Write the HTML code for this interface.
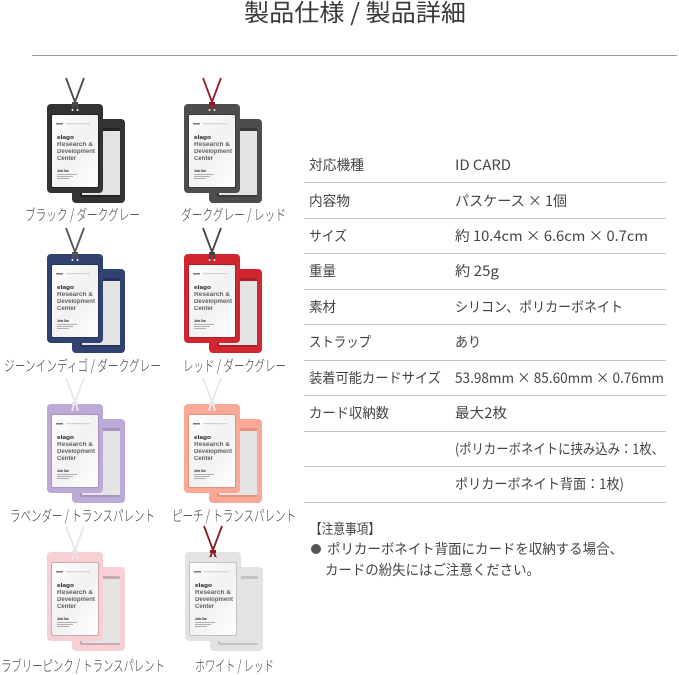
<!DOCTYPE html>
<html lang="ja"><head><meta charset="utf-8"><style>
html,body{margin:0;padding:0;background:#fff;width:679px;height:675px;overflow:hidden}
svg{display:block;font-family:"Noto Sans CJK JP","Liberation Sans",sans-serif}
.c,.r{font-size:14px;fill:#444;font-weight:400}
.l{font-size:15px;fill:#444;font-weight:300}
.k{font-family:"Liberation Sans",sans-serif;fill:#222;font-weight:bold}
use{filter:blur(.3px)}
</style></head><body>
<svg width="679" height="675" viewBox="0 0 679 675" xmlns="http://www.w3.org/2000/svg">
<defs>
<linearGradient id="g" x1="0" y1="0" x2="1" y2="1"><stop offset="0" stop-color="#fff"/><stop offset=".5" stop-color="#f1f1f1"/><stop offset="1" stop-color="#fff"/></linearGradient>
<symbol id="h" width="90" height="130" viewBox="0 -30 90 130" overflow="visible">
<rect x="25" y="15" width="53" height="84" rx="4" fill="var(--f)"/>
<rect x="33" y="24" width="40" height="69" rx="2" fill="var(--e)"/>
<rect x="35" y="27" width="38" height="64" fill="#e4e4e4"/>
<rect x="0" y="0" width="56" height="89" rx="4" fill="var(--f)"/>
<rect x="4" y="10" width="48" height="74" rx="2" fill="var(--e)"/>
<rect x="5" y="11" width="46" height="72" rx="1" fill="url(#g)"/>
<path d="M19-26 31 6M37-26 25 6" stroke="var(--s)" stroke-width="1.800" fill="none"/>
<rect x="25" y="-2" width="6" height="3" fill="var(--s)"/>
<circle cx="25.500" cy="6" r="1" fill="#f2f2f2"/><circle cx="30.500" cy="6" r="1" fill="#f2f2f2"/>
<rect x="9" y="19" width="7" height="1.500" fill="#777"/><rect x="19" y="19.200" width="24" height="1" fill="#ccc"/>
<text class="k" x="10" y="35" font-size="5.500" textLength="17" lengthAdjust="spacingAndGlyphs">elago</text>
<text class="k" x="10" y="42" font-size="6" textLength="36" lengthAdjust="spacingAndGlyphs" opacity=".7">Research &amp;</text>
<text class="k" x="10" y="49" font-size="6" textLength="38" lengthAdjust="spacingAndGlyphs" opacity=".7">Development</text>
<text class="k" x="10" y="56" font-size="6" textLength="19" lengthAdjust="spacingAndGlyphs" opacity=".7">Center</text>
<text class="k" x="10" y="68" font-size="3.500" textLength="12" lengthAdjust="spacingAndGlyphs">John Doe</text>
<path d="M10 70.500h20M10 72.500h16M10 74.500h12" stroke="#999" stroke-width=".8"/>
</symbol>
</defs>

<text x="355" y="21" text-anchor="middle" font-size="24" fill="#3a3a3a" font-weight="400" textLength="222" lengthAdjust="spacingAndGlyphs">製品仕様 / 製品詳細</text>
<rect x="32" y="55" width="645" height="1" fill="#999"/>

<use href="#h" x="47" y="74" width="90" height="130" style="--f:#333335;--e:#222;--s:#4a4a4c"/>
<use href="#h" x="184" y="74" width="90" height="130" style="--f:#4c4d4f;--e:#3a3a3a;--s:#8e1e2a"/>
<use href="#h" x="47" y="224" width="90" height="130" style="--f:#2f4270;--e:#24345c;--s:#555"/>
<use href="#h" x="184" y="224" width="90" height="130" style="--f:#d0262f;--e:#ad1e28;--s:#444"/>
<use href="#h" x="47" y="374" width="90" height="130" style="--f:#bcaad6;--e:#a593c2;--s:#e8e8e8"/>
<use href="#h" x="184" y="374" width="90" height="130" style="--f:#f9a995;--e:#e8917e;--s:#e8e8e8"/>
<use href="#h" x="47" y="522" width="90" height="130" style="--f:#f6d0d5;--e:#c9a9ae;--s:#e6e6e6"/>
<use href="#h" x="185" y="522" width="90" height="130" style="--f:#e3e3e3;--e:#c2c2c2;--s:#8a1a22"/>

<text class="l" x="25" y="220" textLength="115" lengthAdjust="spacingAndGlyphs">ブラック / ダークグレー</text>
<text class="l" x="181" y="220" textLength="105" lengthAdjust="spacingAndGlyphs">ダークグレー / レッド</text>
<text class="l" x="4" y="371" textLength="157" lengthAdjust="spacingAndGlyphs">ジーンインディゴ / ダークグレー</text>
<text class="l" x="183" y="371" textLength="103" lengthAdjust="spacingAndGlyphs">レッド / ダークグレー</text>
<text class="l" x="10" y="521" textLength="145" lengthAdjust="spacingAndGlyphs">ラベンダー / トランスパレント</text>
<text class="l" x="172" y="521" textLength="124" lengthAdjust="spacingAndGlyphs">ピーチ / トランスパレント</text>
<text class="l" x="1" y="671" textLength="164" lengthAdjust="spacingAndGlyphs">ラブリーピンク / トランスパレント</text>
<text class="l" x="195" y="671" textLength="79" lengthAdjust="spacingAndGlyphs">ホワイト / レッド</text>

<g fill="#c4c4c4">
<rect x="304" y="182" width="362" height="1"/><rect x="304" y="218" width="362" height="1"/>
<rect x="304" y="253" width="362" height="1"/><rect x="304" y="289" width="362" height="1"/>
<rect x="304" y="324" width="362" height="1"/><rect x="304" y="360" width="362" height="1"/>
<rect x="304" y="395" width="362" height="1"/><rect x="304" y="431" width="362" height="1"/>
<rect x="304" y="466" width="362" height="1"/><rect x="304" y="502" width="362" height="1"/>
</g>

<text class="r" x="309" y="170" textLength="55" lengthAdjust="spacingAndGlyphs">対応機種</text>
<text class="r" x="309" y="206" textLength="41" lengthAdjust="spacingAndGlyphs">内容物</text>
<text class="r" x="309" y="241" textLength="38" lengthAdjust="spacingAndGlyphs">サイズ</text>
<text class="r" x="309" y="276" textLength="27" lengthAdjust="spacingAndGlyphs">重量</text>
<text class="r" x="309" y="312" textLength="27" lengthAdjust="spacingAndGlyphs">素材</text>
<text class="r" x="309" y="347" textLength="62" lengthAdjust="spacingAndGlyphs">ストラップ</text>
<text class="r" x="309" y="383" textLength="132" lengthAdjust="spacingAndGlyphs">装着可能カードサイズ</text>
<text class="r" x="309" y="418" textLength="80" lengthAdjust="spacingAndGlyphs">カード収納数</text>

<text class="c" x="455" y="170" textLength="56" lengthAdjust="spacingAndGlyphs">ID CARD</text>
<text class="c" x="455" y="206" textLength="112" lengthAdjust="spacingAndGlyphs">パスケース × 1個</text>
<text class="c" x="455" y="241" textLength="193" lengthAdjust="spacingAndGlyphs">約 10.4cm × 6.6cm × 0.7cm</text>
<text class="c" x="455" y="276" textLength="44" lengthAdjust="spacingAndGlyphs">約 25g</text>
<text class="c" x="455" y="312" textLength="168" lengthAdjust="spacingAndGlyphs">シリコン、ポリカーボネイト</text>
<text class="c" x="455" y="347" textLength="26" lengthAdjust="spacingAndGlyphs">あり</text>
<text class="c" x="455" y="383" textLength="209" lengthAdjust="spacingAndGlyphs">53.98mm × 85.60mm × 0.76mm</text>
<text class="c" x="455" y="418" textLength="52" lengthAdjust="spacingAndGlyphs">最大2枚</text>
<text class="c" x="455" y="454" textLength="209" lengthAdjust="spacingAndGlyphs">(ポリカーボネイトに挟み込み：1枚、</text>
<text class="c" x="455" y="489" textLength="169" lengthAdjust="spacingAndGlyphs">ポリカーボネイト背面：1枚)</text>

<text class="c" x="310" y="534" textLength="70" lengthAdjust="spacingAndGlyphs">【注意事項】</text>
<circle cx="316" cy="549" r="5" fill="#555"/>
<text class="c" x="327" y="554" textLength="296" lengthAdjust="spacingAndGlyphs">ポリカーボネイト背面にカードを収納する場合、</text>
<text class="c" x="325" y="575" textLength="215" lengthAdjust="spacingAndGlyphs">カードの紛失にはご注意ください。</text>
</svg>
</body></html>
